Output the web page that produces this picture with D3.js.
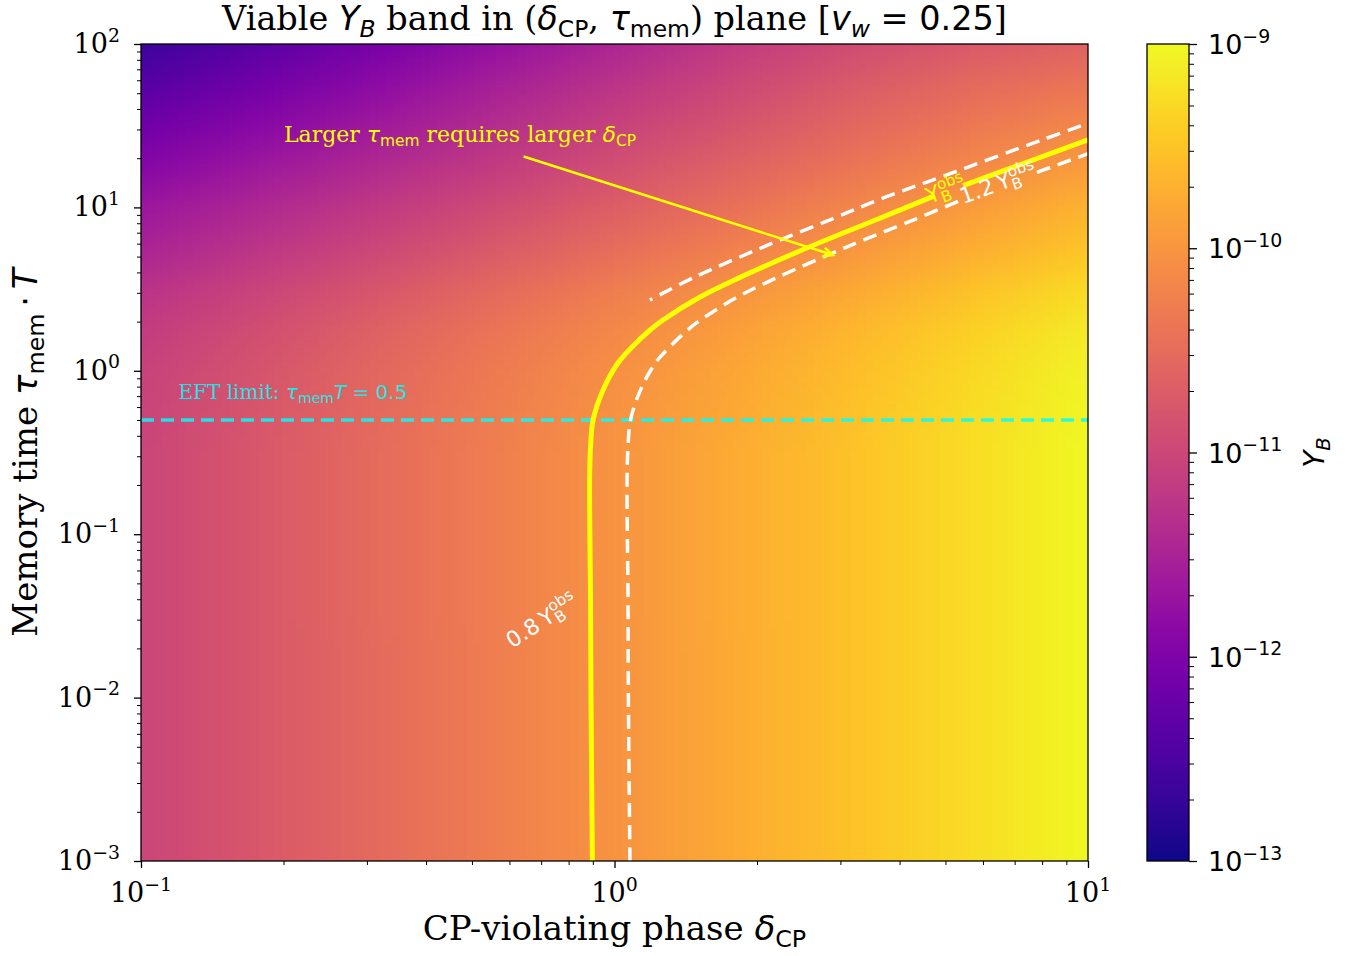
<!DOCTYPE html>
<html>
<head>
<meta charset="utf-8">
<script src="https://cdn.jsdelivr.net/npm/d3@7"></script>
<style>
  body { margin: 0; background: #fff; }
  svg { display: block; }
</style>
</head>
<body>
<div id="chart"></div>
<script>
// grid of log10(Y_B): columns = log10(delta), rows = log10(tau*T), bottom row first
var gridLogDelta = [-1, -0.75, -0.5, -0.25, 0, 0.25, 0.5, 0.75, 1];
var gridLogTau = [-3, -2.75, -2.5, -2.25, -2, -1.75, -1.5, -1.25, -1, -0.75, -0.5, -0.25,
                  0, 0.25, 0.5, 0.75, 1, 1.25, 1.5, 1.75, 2];
var gridLogY = [
  [-11.01, -10.76, -10.51, -10.26, -10.01, -9.76, -9.51, -9.26, -9.01],
  [-11.01, -10.76, -10.51, -10.26, -10.01, -9.76, -9.51, -9.26, -9.01],
  [-11.01, -10.76, -10.51, -10.26, -10.01, -9.76, -9.51, -9.26, -9.01],
  [-11.01, -10.76, -10.51, -10.26, -10.01, -9.76, -9.51, -9.26, -9.01],
  [-11.01, -10.76, -10.51, -10.26, -10.01, -9.76, -9.51, -9.26, -9.01],
  [-11.01, -10.76, -10.51, -10.26, -10.01, -9.76, -9.51, -9.26, -9.01],
  [-11.00, -10.75, -10.50, -10.25, -10.00, -9.75, -9.50, -9.25, -9.00],
  [-11.00, -10.75, -10.50, -10.25, -10.00, -9.75, -9.50, -9.25, -9.00],
  [-11.00, -10.75, -10.50, -10.25, -10.00, -9.75, -9.50, -9.25, -9.00],
  [-11.00, -10.75, -10.50, -10.25, -10.00, -9.75, -9.50, -9.25, -9.00],
  [-11.00, -10.75, -10.50, -10.25, -10.00, -9.75, -9.50, -9.25, -9.00],
  [-11.02, -10.77, -10.52, -10.27, -10.02, -9.77, -9.52, -9.27, -9.02],
  [-11.06, -10.81, -10.56, -10.31, -10.06, -9.81, -9.56, -9.31, -9.06],
  [-11.14, -10.89, -10.64, -10.39, -10.14, -9.89, -9.64, -9.39, -9.14],
  [-11.27, -11.02, -10.77, -10.52, -10.27, -10.02, -9.77, -9.52, -9.27],
  [-11.47, -11.22, -10.97, -10.72, -10.47, -10.22, -9.97, -9.72, -9.47],
  [-11.67, -11.42, -11.17, -10.92, -10.67, -10.42, -10.17, -9.92, -9.67],
  [-11.90, -11.64, -11.39, -11.13, -10.87, -10.62, -10.37, -10.13, -9.90],
  [-12.14, -11.87, -11.60, -11.33, -11.06, -10.80, -10.56, -10.33, -10.13],
  [-12.38, -12.10, -11.82, -11.53, -11.25, -10.97, -10.73, -10.53, -10.37],
  [-12.63, -12.34, -12.04, -11.74, -11.44, -11.15, -10.92, -10.74, -10.61]
];

// contour lines as [delta, tau*T] points, split where the inline labels sit
var obsLower = [[0.898, 0.001], [0.892, 0.0097], [0.890, 0.0395], [0.886, 0.215], [0.890, 0.342],
                [0.901, 0.5], [0.946, 0.764], [1.017, 1.116], [1.089, 1.399], [1.189, 1.777],
                [1.266, 2.046], [1.516, 2.83], [1.841, 3.73], [2.576, 5.72], [3.58, 8.43], [4.75, 11.8]];
var obsUpper = [[5.45, 13.6], [7.5, 19.1], [10, 25.9]];
var hiLower = [[1.078, 0.001], [1.070, 0.0097], [1.068, 0.0395], [1.063, 0.215], [1.068, 0.342],
               [1.081, 0.5], [1.135, 0.764], [1.220, 1.116], [1.307, 1.399], [1.427, 1.777],
               [1.519, 2.046], [1.819, 2.83], [2.209, 3.73], [3.091, 5.72], [4.30, 8.43], [5.32, 10.9]];
var hiUpper = [[7.80, 16.4], [10, 21.3]];
var loPart = [[1.188, 2.71], [1.473, 3.73], [2.061, 5.72], [2.86, 8.43], [3.744, 11.58],
              [5.0, 15.7], [8.0, 25.9], [10, 32.7]];

// inline contour labels: [prefix, delta, tau, angle, colour]
var contourLabels = [
    ["0.8\u2009", 0.703, 0.0294, -33, "#ffffff"],
    ["", 5.01, 12.8, -21, "#ffff00"],
    ["1.2\u2009", 6.46, 13.9, -20, "#ffffff"]
];

var eftTau = 0.5;
var eftText = [0.12, 0.67];
var noteText = [0.2004, 25.1];
var noteTip = [2.894, 5.11];

var xDomain = [0.1, 10],
    yDomain = [1e-3, 1e2],
    cbDomain = [1e-13, 1e-9];

var SERIF = "'DejaVu Serif', serif",
    SANS = "'DejaVu Sans', sans-serif";

//Helper variables
var margin = {top: 44, left: 141},
    width = 947,
    height = 817;

var x = d3.scaleLog().domain(xDomain).range([0, width]),
    y = d3.scaleLog().domain(yDomain).range([height, 0]),
    color = d3.scaleSequentialLog(d3.interpolatePlasma).domain(cbDomain);

var svg = d3.select("#chart").append("svg")
    .attr("width", 1358)
    .attr("height", 956);

svg.append("defs").append("clipPath")
    .attr("id", "clip")
    .append("rect")
    .attr("width", width)
    .attr("height", height);

// text with sub/superscripts made of tspans
function rich(textSel, parts, size) {
    var off = 0, prev = null;
    parts.forEach(function(p) {
        var target = p.pos === "sub" ? 0.2 * size : (p.pos === "sup" ? -0.42 * size : 0);
        var ts = textSel.append("tspan").text(p.t)
            .attr("font-family", p.f === "s" ? SANS : SERIF)
            .attr("font-style", p.i ? "italic" : "normal")
            .attr("font-size", p.pos ? size * 0.7 : size)
            .attr("dy", target - off);
        if (p.stack && prev) ts.attr("dx", -prev.node().getComputedTextLength());
        off = target;
        prev = ts;
    });
    return textSel;
}

function expLabel(v) {
    var e = Math.round(Math.log10(v));
    return e < 0 ? "\u2212" + (-e) : "" + e;
}
function isMajor(v) {
    var l = Math.log10(v);
    return Math.abs(l - Math.round(l)) < 1e-6;
}

var focus = svg.append("g")
    .attr("transform", "translate(" + margin.left + "," + margin.top + ")");

var plot = focus.append("g").attr("clip-path", "url(#clip)");

//Heat map: one pixel per grid cell, stretched so that pixel centres sit on the grid nodes
var nx = gridLogDelta.length, ny = gridLogTau.length;
var canvas = document.createElement("canvas");
canvas.width = nx;
canvas.height = ny;
var ctx = canvas.getContext("2d");
gridLogY.forEach(function(row, i) {
    row.forEach(function(v, j) {
        ctx.fillStyle = color(Math.pow(10, v));
        ctx.fillRect(j, ny - 1 - i, 1, 1);
    });
});
var hx = (gridLogDelta[1] - gridLogDelta[0]) / 2,
    hy = (gridLogTau[1] - gridLogTau[0]) / 2;
var ix0 = x(Math.pow(10, gridLogDelta[0] - hx)),
    ix1 = x(Math.pow(10, gridLogDelta[nx - 1] + hx)),
    iy0 = y(Math.pow(10, gridLogTau[ny - 1] + hy)),
    iy1 = y(Math.pow(10, gridLogTau[0] - hy));
plot.append("image")
    .attr("href", canvas.toDataURL())
    .attr("x", ix0)
    .attr("y", iy0)
    .attr("width", ix1 - ix0)
    .attr("height", iy1 - iy0)
    .attr("preserveAspectRatio", "none");

//EFT limit
plot.append("line")
    .attr("x1", 0).attr("x2", width)
    .attr("y1", y(eftTau)).attr("y2", y(eftTau))
    .attr("stroke", "cyan")
    .attr("stroke-opacity", 0.82)
    .attr("stroke-width", 3.5)
    .attr("stroke-dasharray", "13,7");

var line = d3.line()
    .x(function(d) { return x(d[0]); })
    .y(function(d) { return y(d[1]); })
    .curve(d3.curveCatmullRom.alpha(0.5));

[obsLower, obsUpper].forEach(function(pts) {
    plot.append("path").datum(pts)
        .attr("d", line)
        .attr("fill", "none")
        .attr("stroke", "#ffff00")
        .attr("stroke-width", 5);
});
[hiLower, hiUpper, loPart].forEach(function(pts, k) {
    plot.append("path").datum(pts)
        .attr("d", line)
        .attr("fill", "none")
        .attr("stroke", "#ffffff")
        .attr("stroke-width", 3.5)
        .attr("stroke-dasharray", "14,8")
        .attr("stroke-dashoffset", k === 2 ? 11 : 0);
});

contourLabels.forEach(function(c) {
    var t = plot.append("text")
        .attr("transform", "translate(" + x(c[1]) + "," + y(c[2]) + ") rotate(" + c[3] + ")")
        .attr("text-anchor", "middle")
        .attr("y", 7)
        .attr("fill", c[4]);
    var parts = [];
    if (c[0]) parts.push({t: c[0], f: "s"});
    parts.push({t: "Y", f: "s"}, {t: "B", f: "s", pos: "sub"}, {t: "obs", f: "s", pos: "sup", stack: true});
    rich(t, parts, 22);
});

//EFT label
rich(focus.append("text")
    .attr("x", x(eftText[0]))
    .attr("y", y(eftText[1]))
    .attr("fill", "cyan")
    .attr("fill-opacity", 0.85),
    [{t: "EFT limit: "}, {t: "\u03c4", f: "s", i: true}, {t: "mem", f: "s", pos: "sub"},
     {t: "T", f: "s", i: true}, {t: " = 0.5", f: "s"}], 20);

//Annotation with arrow
var note = rich(focus.append("text")
    .attr("x", x(noteText[0]))
    .attr("y", y(noteText[1]))
    .attr("fill", "#ffff00"),
    [{t: "Larger "}, {t: "\u03c4", f: "s", i: true}, {t: "mem", f: "s", pos: "sub"},
     {t: " requires larger "}, {t: "\u03b4", f: "s", i: true}, {t: "CP", f: "s", pos: "sub"}], 22);
var bb = note.node().getBBox();
var cx = bb.x + bb.width / 2, cy = bb.y + bb.height / 2,
    tx = x(noteTip[0]), ty = y(noteTip[1]);
var ddx = tx - cx, ddy = ty - cy, len = Math.sqrt(ddx * ddx + ddy * ddy);
var s = Math.min((bb.width / 2) / Math.abs(ddx), (bb.height / 2) / Math.abs(ddy));
var sx = cx + ddx * s + ddx / len * 20, sy = cy + ddy * s + ddy / len * 20;
var ang = Math.atan2(ddy, ddx), hl = 11, ha = 0.42;
focus.append("path")
    .attr("d", "M" + sx + "," + sy + "L" + tx + "," + ty +
        "M" + (tx - hl * Math.cos(ang - ha)) + "," + (ty - hl * Math.sin(ang - ha)) +
        "L" + tx + "," + ty +
        "L" + (tx - hl * Math.cos(ang + ha)) + "," + (ty - hl * Math.sin(ang + ha)))
    .attr("fill", "none")
    .attr("stroke", "#ffff00")
    .attr("stroke-width", 2.5);

//Axes
var xt = x.ticks(), yt = y.ticks();
function styleAxis(g, w) {
    g.select(".domain").remove();
    g.selectAll("line").attr("stroke", "#000").attr("stroke-width", w);
}
focus.append("g")
    .attr("transform", "translate(0," + height + ")")
    .call(d3.axisBottom(x).tickValues(xt.filter(isMajor)).tickSize(7).tickFormat(""))
    .call(styleAxis, 1.3);
focus.append("g")
    .attr("transform", "translate(0," + height + ")")
    .call(d3.axisBottom(x).tickValues(xt.filter(function(v) { return !isMajor(v); })).tickSize(4).tickFormat(""))
    .call(styleAxis, 1);
focus.append("g")
    .call(d3.axisLeft(y).tickValues(yt.filter(isMajor)).tickSize(7).tickFormat(""))
    .call(styleAxis, 1.3);
focus.append("g")
    .call(d3.axisLeft(y).tickValues(yt.filter(function(v) { return !isMajor(v); })).tickSize(4).tickFormat(""))
    .call(styleAxis, 1);

xt.filter(isMajor).forEach(function(v) {
    rich(focus.append("text").attr("x", x(v)).attr("y", height + 41)
        .attr("text-anchor", "middle").attr("fill", "#000"),
        [{t: "10"}, {t: expLabel(v), pos: "sup"}], 27);
});
yt.filter(isMajor).forEach(function(v) {
    rich(focus.append("text").attr("x", -21).attr("y", y(v) + 9)
        .attr("text-anchor", "end").attr("fill", "#000"),
        [{t: "10"}, {t: expLabel(v), pos: "sup"}], 27);
});

focus.append("rect")
    .attr("width", width).attr("height", height)
    .attr("fill", "none").attr("stroke", "#000").attr("stroke-width", 1.3);

//Axis titles
rich(svg.append("text").attr("x", margin.left + width / 2).attr("y", 940)
    .attr("text-anchor", "middle").attr("fill", "#000"),
    [{t: "CP-violating phase "}, {t: "\u03b4", f: "s", i: true}, {t: "CP", f: "s", pos: "sub"}], 34);

rich(svg.append("text")
    .attr("transform", "translate(37," + (margin.top + height / 2) + ") rotate(-90)")
    .attr("text-anchor", "middle").attr("fill", "#000"),
    [{t: "Memory time "}, {t: "\u03c4", f: "s", i: true}, {t: "mem", f: "s", pos: "sub"},
     {t: "\u2009\u22c5\u2009", f: "s"}, {t: "T", f: "s", i: true}], 34);

rich(svg.append("text").attr("x", margin.left + width / 2).attr("y", 30)
    .attr("text-anchor", "middle").attr("fill", "#000"),
    [{t: "Viable "}, {t: "Y", f: "s", i: true}, {t: "B", f: "s", i: true, pos: "sub"},
     {t: " band in ("}, {t: "\u03b4", f: "s", i: true}, {t: "CP", f: "s", pos: "sub"},
     {t: ", "}, {t: "\u03c4", f: "s", i: true}, {t: "mem", f: "s", pos: "sub"},
     {t: ") plane ["}, {t: "v", f: "s", i: true}, {t: "w", f: "s", i: true, pos: "sub"},
     {t: " = 0.25", f: "s"}, {t: "]"}], 33.5);

//Colour bar
var cbW = 42;
var cb = svg.append("g").attr("transform", "translate(1147," + margin.top + ")");
var cbY = d3.scaleLog().domain(cbDomain).range([height, 0]);
var grad = svg.select("defs").append("linearGradient")
    .attr("id", "cbgrad")
    .attr("x1", 0).attr("y1", 1).attr("x2", 0).attr("y2", 0);
d3.range(0, 1.0001, 0.025).forEach(function(t) {
    grad.append("stop").attr("offset", t).attr("stop-color", d3.interpolatePlasma(t));
});
cb.append("rect").attr("width", cbW).attr("height", height).attr("fill", "url(#cbgrad)");
var ct = cbY.ticks();
cb.append("g").attr("transform", "translate(" + cbW + ",0)")
    .call(d3.axisRight(cbY).tickValues(ct.filter(isMajor)).tickSize(8).tickFormat(""))
    .call(styleAxis, 1.3);
cb.append("g").attr("transform", "translate(" + cbW + ",0)")
    .call(d3.axisRight(cbY).tickValues(ct.filter(function(v) { return !isMajor(v); })).tickSize(5).tickFormat(""))
    .call(styleAxis, 1);
cb.append("rect").attr("width", cbW).attr("height", height)
    .attr("fill", "none").attr("stroke", "#000").attr("stroke-width", 1.3);
ct.filter(isMajor).forEach(function(v) {
    rich(cb.append("text").attr("x", cbW + 19).attr("y", cbY(v) + 10).attr("fill", "#000"),
        [{t: "10", f: "s"}, {t: expLabel(v), f: "s", pos: "sup"}], 27);
});
rich(svg.append("text")
    .attr("transform", "translate(1324," + (margin.top + height / 2) + ") rotate(-90)")
    .attr("text-anchor", "middle").attr("fill", "#000"),
    [{t: "Y", f: "s", i: true}, {t: "B", f: "s", i: true, pos: "sub"}], 28);
</script>
</body>
</html>
